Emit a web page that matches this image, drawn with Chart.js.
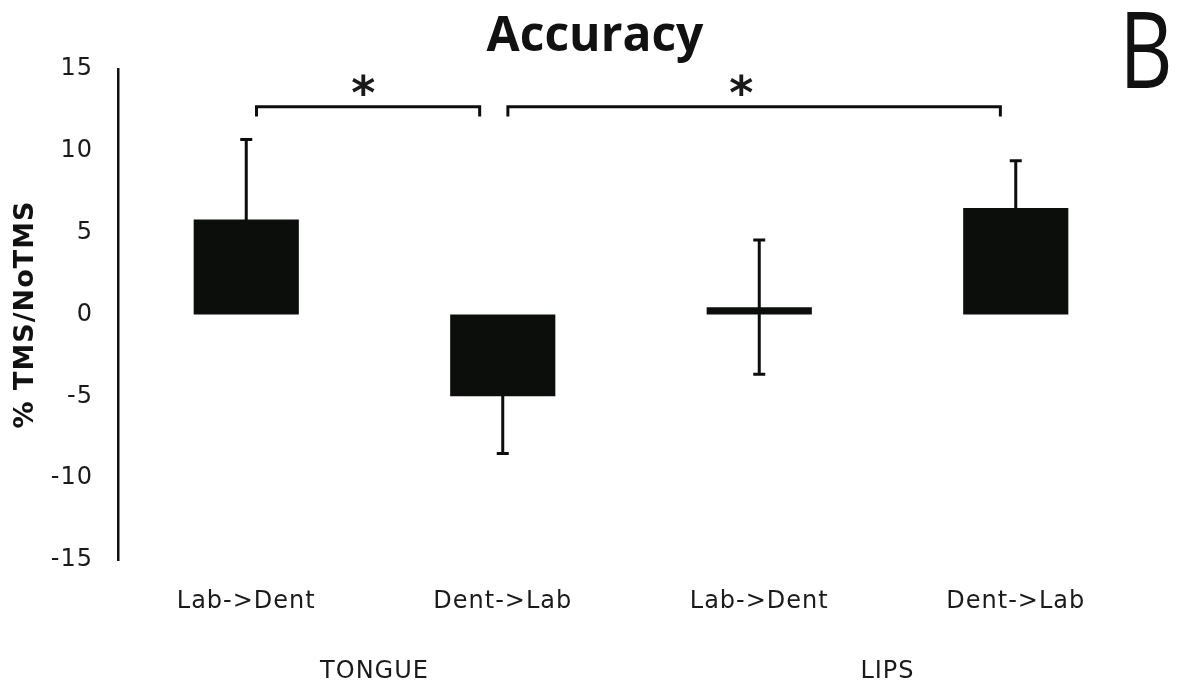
<!DOCTYPE html>
<html>
<head>
<meta charset="utf-8">
<script src="https://cdn.jsdelivr.net/npm/chart.js@4"></script>
<style>
html,body{margin:0;padding:0;background:#fff;}
#wrap{width:1179px;height:688px;position:relative;}
</style>
</head>
<body>
<div id="wrap"><canvas id="c" width="1179" height="688"></canvas></div>
<script>
// ---- data ----
const categories = ["Lab->Dent", "Dent->Lab", "Lab->Dent", "Dent->Lab"];
const groupLabels = ["TONGUE", "LIPS"];
const groupRanges = [[0, 1], [2, 3]];
const values = [5.8, -5.0, 0.45, 6.5];
const errors = [4.9, 3.5, 4.1, 2.9];
const yTicks = [-15, -10, -5, 0, 5, 10, 15];
// significance brackets: [xStart, xEnd] in category units, bar level, tick end level, star x
const bracketX = [[0.04, 0.91], [1.02, 2.94]];
const bracketY = [12.7, 12.7];
const bracketTickY = [12.1, 12.1];
const starX = [0.456, 1.93];
const starY = [13.8, 13.8];
const titleText = "Accuracy";
const panelLetter = "B";
const yTitle = "% TMS/NoTMS";

const INK = '#0c0e0c';

const spacing = {
  id: 'spacing',
  beforeDraw(chart) { chart.ctx.letterSpacing = '1px'; }
};

const overlay = {
  id: 'overlay',
  afterDatasetsDraw(chart) {
    const ctx = chart.ctx;
    const xs = chart.scales.x, ys = chart.scales.y;
    ctx.save();
    // error bars
    ctx.strokeStyle = INK;
    ctx.lineWidth = 3;
    values.forEach((v, i) => {
      const x = xs.getPixelForValue(i);
      const yHi = ys.getPixelForValue(v + errors[i]);
      const yLo = ys.getPixelForValue(v - errors[i]);
      ctx.beginPath();
      ctx.moveTo(x, yHi); ctx.lineTo(x, yLo);
      ctx.moveTo(x - 6, yHi); ctx.lineTo(x + 6, yHi);
      ctx.moveTo(x - 6, yLo); ctx.lineTo(x + 6, yLo);
      ctx.stroke();
    });
    // brackets
    ctx.lineWidth = 3;
    bracketX.forEach((bx, k) => {
      const x1 = xs.getPixelForValue(bx[0]);
      const x2 = xs.getPixelForValue(bx[1]);
      const y = ys.getPixelForValue(bracketY[k]);
      const yt = ys.getPixelForValue(bracketTickY[k]);
      ctx.beginPath();
      ctx.moveTo(x1, yt); ctx.lineTo(x1, y); ctx.lineTo(x2, y); ctx.lineTo(x2, yt);
      ctx.stroke();
      ctx.fillStyle = '#1a1a1a';
      ctx.letterSpacing = '0px';
      ctx.font = 'bold 46px "DejaVu Sans"';
      ctx.textAlign = 'center';
      ctx.textBaseline = 'middle';
      ctx.fillText('*', xs.getPixelForValue(starX[k]), ys.getPixelForValue(starY[k]) + 8);
    });
    // group labels
    ctx.letterSpacing = '1px';
    ctx.fillStyle = '#1a1a1a';
    ctx.font = '24px "DejaVu Sans"';
    ctx.textAlign = 'center';
    ctx.textBaseline = 'middle';
    groupLabels.forEach((g, k) => {
      const x = (xs.getPixelForValue(groupRanges[k][0]) + xs.getPixelForValue(groupRanges[k][1])) / 2;
      ctx.fillText(g, x, 672);
    });
    // title
    ctx.letterSpacing = '0px';
    ctx.font = 'bold 48px "Open Sans"';
    ctx.fillStyle = '#111';
    ctx.textBaseline = 'alphabetic';
    ctx.fillText(titleText, 595, 51);
    // panel letter
    ctx.save();
    ctx.translate(1146, 88);
    ctx.scale(0.78, 1);
    ctx.font = '500 106px "Open Sans"';
    ctx.textAlign = 'center';
    ctx.fillText(panelLetter, 0, 0);
    ctx.restore();
    ctx.restore();
  }
};

new Chart(document.getElementById('c'), {
  type: 'bar',
  data: {
    labels: categories,
    datasets: [{
      data: values,
      backgroundColor: INK,
      borderWidth: 0,
      barPercentage: 0.41,
      categoryPercentage: 1.0
    }]
  },
  options: {
    responsive: false,
    animation: false,
    devicePixelRatio: 1,
    layout: { padding: { top: 69, right: 35, left: 0, bottom: 0 } },
    plugins: { legend: { display: false }, tooltip: { enabled: false }, title: { display: false } },
    scales: {
      x: {
        grid: { display: false, drawTicks: false },
        border: { display: false },
        ticks: { color: '#1a1a1a', font: { family: 'DejaVu Sans', size: 24 }, padding: 27, maxRotation: 0, autoSkip: false },
        afterFit(s) { s.height = 128; }
      },
      y: {
        min: -15, max: 15,
        afterBuildTicks(s) { s.ticks = yTicks.map(v => ({ value: v })); },
        grid: { display: false, drawTicks: false },
        border: { display: true, color: '#111', width: 2.5 },
        ticks: { color: '#1a1a1a', font: { family: 'DejaVu Sans', size: 24 }, padding: 25 },
        title: { display: true, text: yTitle, color: '#111', font: { family: 'DejaVu Sans', size: 27, weight: 'bold' }, padding: { top: 10, bottom: 4 } },
        afterFit(s) { s.width = 118; }
      }
    }
  },
  plugins: [spacing, overlay]
});
</script>
</body>
</html>
